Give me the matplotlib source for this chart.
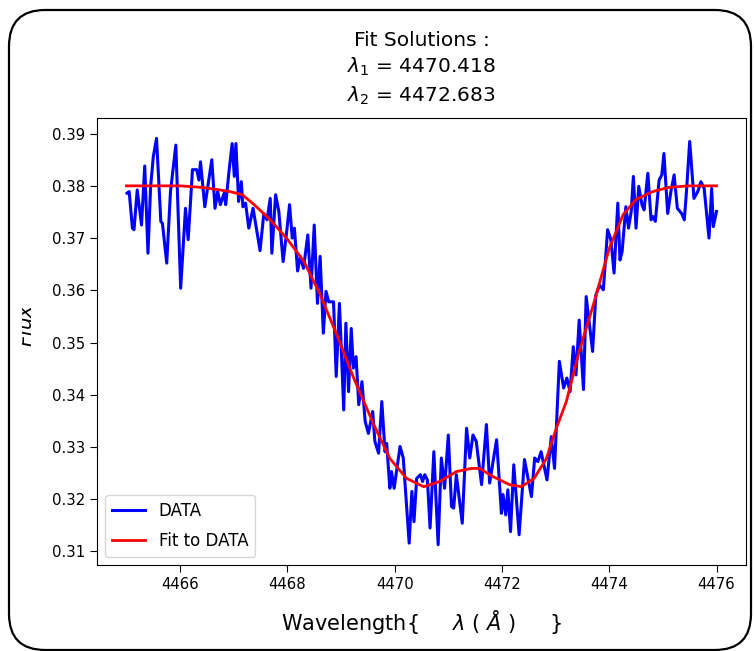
import matplotlib
matplotlib.use("Agg")
import matplotlib.pyplot as plt
from matplotlib.patches import FancyBboxPatch, Rectangle

wave = [4465.01, 4465.05, 4465.11, 4465.14, 4465.20, 4465.28, 4465.34, 4465.40, 4465.45, 4465.50,
        4465.56, 4465.64, 4465.67, 4465.75, 4465.82, 4465.92, 4466.01, 4466.10, 4466.15, 4466.23,
        4466.31, 4466.35, 4466.38, 4466.46, 4466.59, 4466.65, 4466.70, 4466.75, 4466.82, 4466.85,
        4466.91, 4466.97, 4467.01, 4467.04, 4467.09, 4467.14, 4467.17, 4467.22, 4467.28, 4467.36,
        4467.49, 4467.56, 4467.62, 4467.68, 4467.71, 4467.78, 4467.84, 4467.92, 4467.98, 4468.04,
        4468.09, 4468.13, 4468.19, 4468.24, 4468.30, 4468.38, 4468.44, 4468.50, 4468.56, 4468.61,
        4468.67, 4468.72, 4468.77, 4468.86, 4468.91, 4468.97, 4469.05, 4469.09, 4469.14, 4469.19,
        4469.23, 4469.28, 4469.33, 4469.39, 4469.45, 4469.51, 4469.59, 4469.63, 4469.70, 4469.76,
        4469.82, 4469.85, 4469.91, 4469.94, 4469.99, 4470.10, 4470.16, 4470.27, 4470.32, 4470.36,
        4470.41, 4470.48, 4470.52, 4470.56, 4470.61, 4470.66, 4470.73, 4470.81, 4470.87, 4470.93,
        4471.00, 4471.06, 4471.10, 4471.15, 4471.26, 4471.34, 4471.40, 4471.46, 4471.52, 4471.59,
        4471.62, 4471.71, 4471.77, 4471.90, 4471.99, 4472.02, 4472.07, 4472.11, 4472.16, 4472.22,
        4472.32, 4472.42, 4472.55, 4472.61, 4472.67, 4472.73, 4472.84, 4472.92, 4472.98, 4473.07,
        4473.15, 4473.21, 4473.27, 4473.33, 4473.38, 4473.44, 4473.52, 4473.57, 4473.69, 4473.75,
        4473.82, 4473.89, 4473.97, 4474.03, 4474.09, 4474.16, 4474.20, 4474.24, 4474.31, 4474.36,
        4474.41, 4474.45, 4474.50, 4474.55, 4474.61, 4474.65, 4474.72, 4474.78, 4474.82, 4474.86,
        4474.93, 4474.98, 4475.02, 4475.09, 4475.15, 4475.21, 4475.27, 4475.35, 4475.40, 4475.44,
        4475.50, 4475.58, 4475.65, 4475.71, 4475.77, 4475.86, 4475.91, 4475.94, 4476.00]
flux = [0.3786, 0.3789, 0.3719, 0.3716, 0.3792, 0.3725, 0.3838, 0.3671, 0.3799, 0.3856,
        0.3891, 0.3732, 0.3728, 0.3652, 0.3789, 0.3878, 0.3604, 0.3757, 0.3697, 0.3831,
        0.3831, 0.3811, 0.3846, 0.3760, 0.3850, 0.3757, 0.3789, 0.3764, 0.3786, 0.3764,
        0.3827, 0.3881, 0.3818, 0.3881, 0.3770, 0.3808, 0.3760, 0.3767, 0.3719, 0.3757,
        0.3676, 0.3747, 0.3735, 0.3776, 0.3671, 0.3783, 0.3751, 0.3655, 0.3706, 0.3764,
        0.3700, 0.3719, 0.3637, 0.3665, 0.3642, 0.3706, 0.3604, 0.3725, 0.3575, 0.3665,
        0.3518, 0.3598, 0.3578, 0.3578, 0.3435, 0.3575, 0.3371, 0.3537, 0.3406, 0.3527,
        0.3451, 0.3473, 0.3381, 0.3425, 0.3349, 0.3326, 0.3368, 0.3311, 0.3288, 0.3387,
        0.3291, 0.3307, 0.3221, 0.3253, 0.3221, 0.3301, 0.3279, 0.3116, 0.3215, 0.3157,
        0.3240, 0.3247, 0.3234, 0.3247, 0.3237, 0.3145, 0.3291, 0.3113, 0.3279, 0.3221,
        0.3323, 0.3186, 0.3183, 0.3247, 0.3154, 0.3336, 0.3279, 0.3323, 0.3311, 0.3253,
        0.3228, 0.3343, 0.3231, 0.3314, 0.3173, 0.3209, 0.3170, 0.3218, 0.3138, 0.3266,
        0.3132, 0.3276, 0.3205, 0.3279, 0.3272, 0.3291, 0.3237, 0.3320, 0.3259, 0.3464,
        0.3413, 0.3432, 0.3406, 0.3492, 0.3438, 0.3543, 0.3410, 0.3588, 0.3483, 0.3591,
        0.3610, 0.3601, 0.3716, 0.3697, 0.3633, 0.3767, 0.3658, 0.3674, 0.3760, 0.3719,
        0.3751, 0.3818, 0.3719, 0.3799, 0.3764, 0.3754, 0.3824, 0.3735, 0.3741, 0.3732,
        0.3811, 0.3821, 0.3862, 0.3747, 0.3789, 0.3821, 0.3757, 0.3747, 0.3735, 0.3789,
        0.3885, 0.3776, 0.3789, 0.3808, 0.3795, 0.3700, 0.3795, 0.3722, 0.3751]

# double gaussian fit (sampled from the reference curve)
fit_wave = [4465.00, 4466.00, 4466.41, 4466.69, 4466.93, 4467.16, 4467.38, 4467.68, 4467.99, 4468.31,
            4468.61, 4468.92, 4469.24, 4469.61, 4469.91, 4470.22, 4470.54, 4470.84, 4471.15, 4471.43,
            4471.58, 4471.84, 4472.14, 4472.36, 4472.60, 4472.83, 4473.01, 4473.20, 4473.44, 4473.72,
            4474.00, 4474.26, 4474.50, 4474.81, 4475.11, 4475.48, 4476.00]
fit_flux = [0.3800, 0.3800, 0.3797, 0.3793, 0.3789, 0.3783, 0.3764, 0.3735, 0.3699, 0.3655,
            0.3592, 0.3515, 0.3431, 0.3343, 0.3278, 0.3240, 0.3224, 0.3234, 0.3253, 0.3259,
            0.3259, 0.3243, 0.3228, 0.3224, 0.3240, 0.3278, 0.3335, 0.3387, 0.3483, 0.3578,
            0.3680, 0.3745, 0.3774, 0.3789, 0.3797, 0.3800, 0.3800]

lam1 = 4470.418
lam2 = 4472.683

W, H = 754, 651
fig = plt.figure(figsize=(W / 100, H / 100), dpi=100)
ax = fig.add_axes([97 / W, 1 - 565 / H, (746 - 97) / W, (565 - 118) / H])

ax.plot(wave, flux, color='blue', lw=2.2, label='DATA')
ax.plot(fit_wave, fit_flux, color='red', lw=2, label='Fit to DATA')

ax.set_xticks([4466, 4468, 4470, 4472, 4474, 4476])
ax.set_yticks([0.31, 0.32, 0.33, 0.34, 0.35, 0.36, 0.37, 0.38, 0.39])
ax.tick_params(labelsize=10.7, length=5)

ax.set_title('Fit Solutions :\n$\\lambda_1$ = %.3f\n$\\lambda_2$ = %.3f' % (lam1, lam2),
             fontsize=14.5, linespacing=1.35, pad=12)
ax.set_xlabel('Wavelength{     $\\lambda\\ (\\ \\AA\\ )$     }', fontsize=15, labelpad=12)
ax.set_ylabel('$Flux$', fontsize=14.5)
ax.yaxis.set_label_coords(-0.094, 0.537)

ax.legend(loc='lower left', fontsize=12, handlelength=2.0, labelspacing=0.75)

# the y label is cut off at the left edge in the original screenshot
fig.patches.append(Rectangle((9 / W, 280 / H), 13 / W, 100 / H, transform=fig.transFigure,
                             fc='white', ec='none', zorder=2))

# rounded frame around the screenshot
frame = FancyBboxPatch((9 / W, 1 - 650 / H), (751 - 9) / W, (650 - 10) / H,
                       boxstyle='round,pad=0,rounding_size=0.048',
                       transform=fig.transFigure, fill=False, ec='black', lw=1.6,
                       mutation_aspect=W / H, zorder=3)
fig.patches.append(frame)

fig.savefig('out.png', dpi=100)
